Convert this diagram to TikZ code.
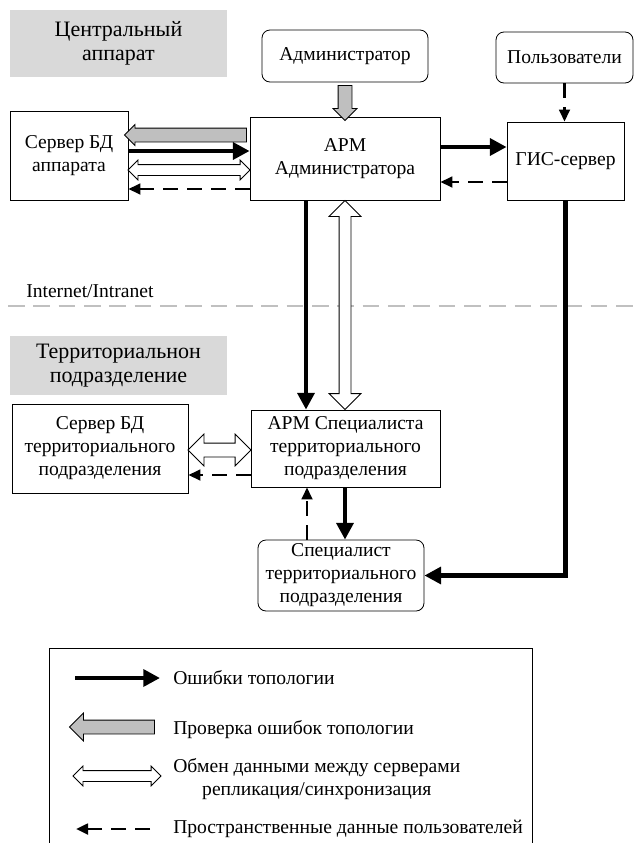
\documentclass[tikz,border=0pt]{standalone}
\usepackage{fontspec}
\setmainfont{Liberation Serif}
\usetikzlibrary{shapes.arrows,arrows.meta,calc}
\definecolor{zonegray}{HTML}{D9D9D9}
\definecolor{arrowgray}{HTML}{BFBFBF}
\definecolor{linegray}{HTML}{C0C0C0}
\tikzset{
    sz/.style 2 args={minimum width=#1*0.75pt, minimum height=#2*0.75pt},
    block/.style = {draw, rectangle, line width=0.6pt, align=center, inner sep=0pt},
    actor/.style = {block, rounded corners=6pt},
    zone/.style = {rectangle, fill=zonegray, align=center, inner sep=0pt,
        font=\fontsize{16.5}{18}\selectfont},
    legtext/.style = {anchor=west, inner xsep=0pt},
    errarrow/.style = {draw, line width=3.2pt, -{Triangle[length=12.5pt,width=12.5pt]}},
    dataarrow/.style = {draw, line width=2pt, dash pattern=on 11pt off 7pt, -{Triangle[length=9pt,width=8pt]}},
    checkarrow/.style 2 args={single arrow, draw, fill=arrowgray, line width=0.6pt,
        inner xsep=0pt, inner ysep=4.875pt,
        sloped, allow upside down, minimum height=#1*0.75pt, minimum width=#2*0.75pt,
        single arrow head extend=(#2-13)*0.375pt},
    syncarrow/.style n args={3}{double arrow, draw, fill=white, line width=0.6pt,
        inner xsep=0pt, inner ysep=#3*0.375pt,
        sloped, allow upside down, minimum height=#1*0.75pt, minimum width=#2*0.75pt,
        double arrow head extend=(#2-#3)*0.375pt},
    sepline/.style = {draw, linegray, line width=1.5pt, dash pattern=on 12.5pt off 6.5pt}
}

\begin{document}
\begin{tikzpicture}[x=0.75pt, y=-0.75pt, font=\fontsize{14.7}{17.2}\selectfont]
    \useasboundingbox (0,0) rectangle (637,843);
    \node [zone, sz={217}{67}] (zoneC) at (118.5,43.5) {Центральный\\аппарат};
    \node [actor, sz={166}{52}] (admin) at (345,56) {Администратор};
    \node [actor, sz={137}{51}] (users) at (564.5,57.5) {Пользователи};
    \node [block, sz={118}{89}] (srvA) at (69,155.5) {Сервер БД\\аппарата};
    \node [block, sz={190}{83}] (armA) at (345,158.5) {АРМ\\Администратора};
    \node [block, sz={117}{78}] (gis) at (565.5,161) {ГИС-сервер};
    \node [anchor=base west, inner xsep=0pt] (net) at (26,297) {Internet/Intranet};
    \node [zone, sz={217}{59}] (zoneT) at (118.5,365.5) {Территориальнон\\подразделение};
    \node [block, sz={176}{89}] (srvT) at (100,448.5) {Сервер БД\\территориального\\подразделения};
    \node [block, sz={189}{77}] (armS) at (345.5,448.5) {АРМ Специалиста\\территориального\\подразделения};
    \node [actor, sz={166}{71}] (spec) at (341,575.5) {Специалист\\территориального\\подразделения};

    \coordinate (r1) at (0,135);
    \coordinate (r2) at (0,151);
    \coordinate (r3) at (0,170);
    \coordinate (r4) at (0,189);
    \coordinate (r5) at (0,147);
    \coordinate (r6) at (0,182);
    \coordinate (r7) at (0,450);
    \coordinate (r8) at (0,475);
    \coordinate (c1) at (306,0);
    \coordinate (c2) at (345,0);
    \coordinate (c3) at (307,0);

    \draw [sepline] (8,306) -- (637,306);

    \path (admin.south) -- (armA.north) node [checkarrow={35}{23}, midway] {};
    \path (armA.west |- r1) -- (srvA.east |- r1) node [checkarrow={122}{20}, midway] {};
    \draw [errarrow] (srvA.east |- r2) -- (armA.west |- r2);
    \path (srvA.east |- r3) -- (armA.west |- r3) node [syncarrow={122}{19}{10}, midway] {};
    \draw [dataarrow] (armA.west |- r4) -- (srvA.east |- r4);
    \draw [errarrow] (armA.east |- r5) -- (gis.west |- r5);
    \draw [dataarrow] (gis.west |- r6) -- (armA.east |- r6);
    \draw [dataarrow] (users.south) -- (users.south |- gis.north);
    \draw [errarrow] (armA.south -| c1) -- (armS.north -| c1);
    \path (armA.south) -- (armA.south |- armS.north) node [syncarrow={209}{31}{11}, midway] {};
    \path (srvT.east |- r7) -- (armS.west |- r7) node [syncarrow={63}{31}{13}, midway] {};
    \draw [dataarrow] (armS.west |- r8) -- (srvT.east |- r8);
    \draw [errarrow] (armS.south -| c2) -- (spec.north -| c2);
    \draw [dataarrow] (spec.north -| c3) -- (armS.south -| c3);
    \draw [errarrow] (gis.south) |- (spec.east);

    \draw [line width=0.6pt] (49,843) -- (49,648) -- (532,648) -- (532,843);
    \coordinate (l1a) at (75,678);
    \coordinate (l1b) at (160,678);
    \coordinate (l2a) at (158,727);
    \coordinate (l2b) at (73,727);
    \coordinate (l3a) at (73,776);
    \coordinate (l3b) at (161,776);
    \coordinate (l4a) at (150,829);
    \coordinate (l4b) at (76,829);
    \draw [errarrow] (l1a) -- (l1b);
    \path (l2a) -- (l2b) node [checkarrow={85}{27}, midway] {};
    \path (l3a) -- (l3b) node [syncarrow={88}{19}{10}, midway] {};
    \draw [dataarrow] (l4a) -- (l4b);
    \node [legtext] (t1) at (173,678) {Ошибки топологии};
    \node [legtext] (t2) at (173,730) {Проверка ошибок топологии};
    \node [legtext, align=center] (t3) at (173,779) {Обмен данными между серверами\\репликация/синхронизация};
    \node [legtext] (t4) at (173,829) {Пространственные данные пользователей};
\end{tikzpicture}
\end{document}
